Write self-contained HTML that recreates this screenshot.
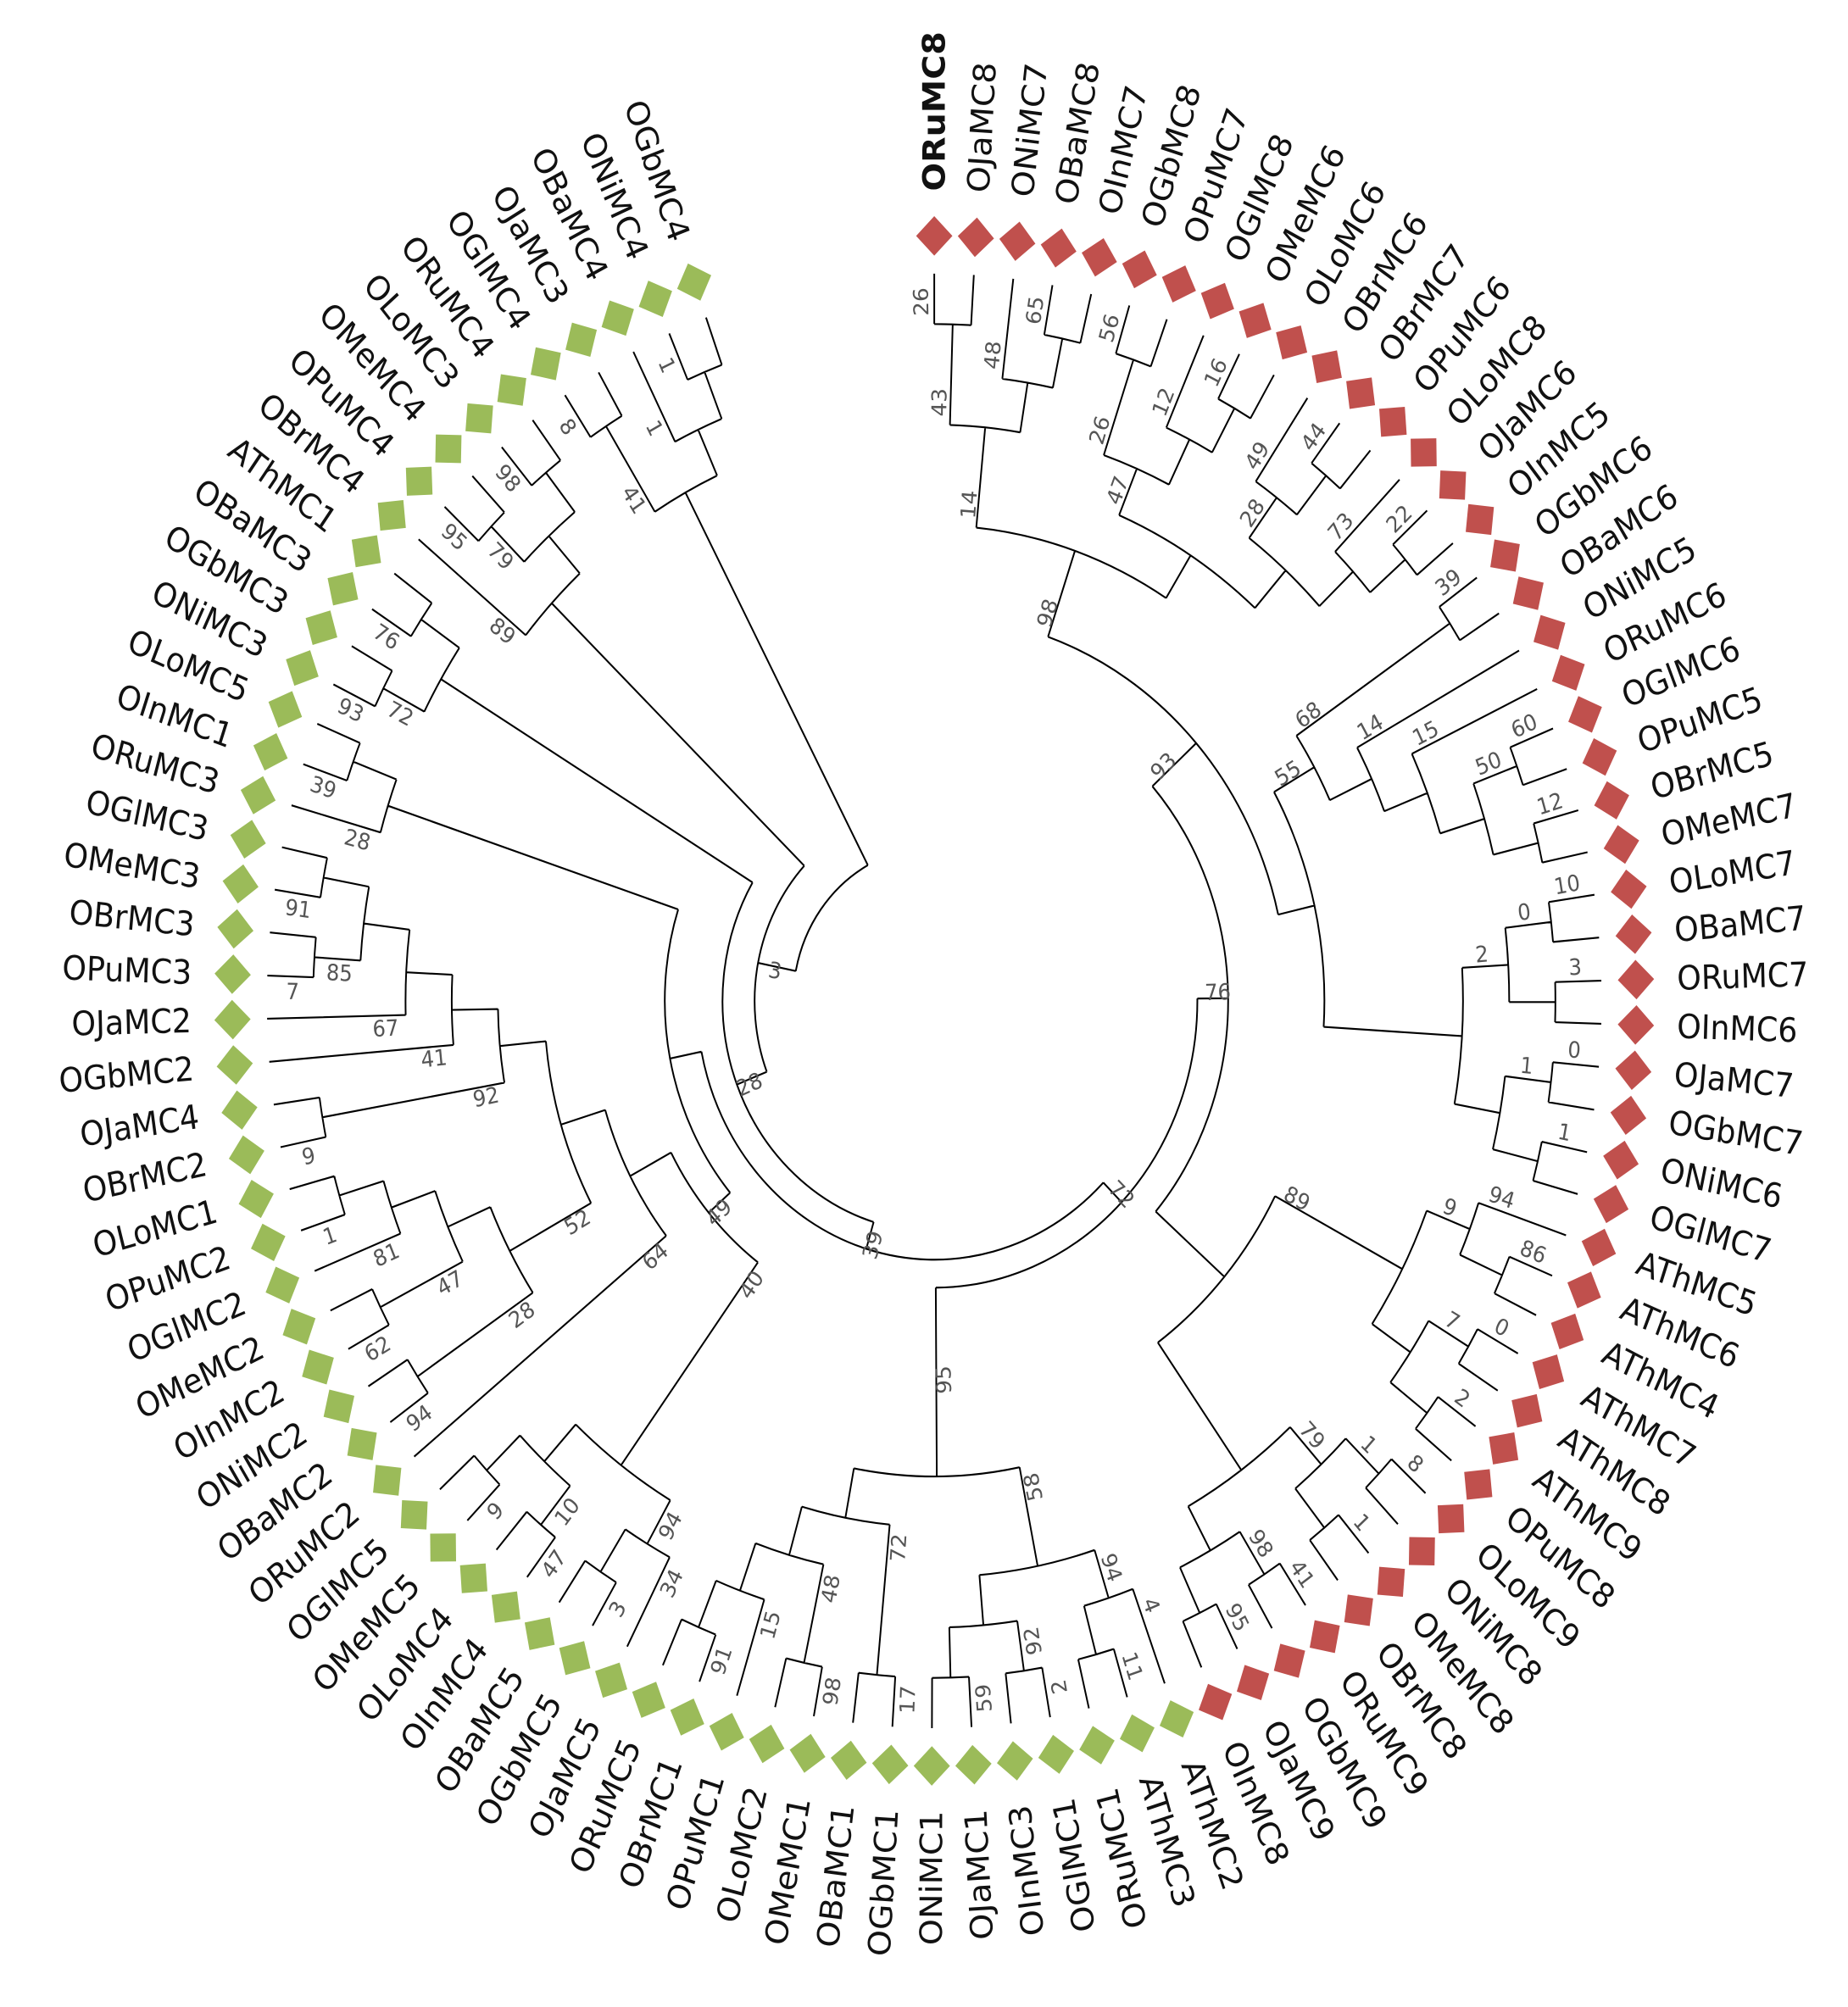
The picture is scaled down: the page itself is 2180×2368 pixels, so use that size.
<!DOCTYPE html>
<html><head><meta charset="utf-8"><style>
html,body{margin:0;padding:0;background:#fff;}
svg{display:block;}
text{font-family:"DejaVu Sans","Liberation Sans",sans-serif;}
</style></head><body>
<svg id="s" xmlns="http://www.w3.org/2000/svg" width="2180" height="2368" viewBox="0 0 1440 1564">
<rect width="1440" height="1564" fill="#fff"/>
<g id="g" transform="translate(728,780) scale(1,1.09)"></g>
</svg>
<script>
const names=["ORuMC8","OJaMC8","ONiMC7","OBaMC8","OInMC7","OGbMC8","OPuMC7","OGlMC8","OMeMC6","OLoMC6","OBrMC6","OBrMC7","OPuMC6","OLoMC8","OJaMC6","OInMC5","OGbMC6","OBaMC6","ONiMC5","ORuMC6","OGlMC6","OPuMC5","OBrMC5","OMeMC7","OLoMC7","OBaMC7","ORuMC7","OInMC6","OJaMC7","OGbMC7","ONiMC6","OGlMC7","AThMC5","AThMC6","AThMC4","AThMC7","AThMC8","AThMC9","OPuMC8","OLoMC9","ONiMC8","OMeMC8","OBrMC8","ORuMC9","OGbMC9","OJaMC9","OInMC8",
"AThMC2","AThMC3","ORuMC1","OGlMC1","OInMC3","OJaMC1","ONiMC1","OGbMC1","OBaMC1","OMeMC1","OLoMC2","OPuMC1","OBrMC1","ORuMC5","OJaMC5","OGbMC5","OBaMC5","OInMC4","OLoMC4","OMeMC5","OGlMC5","ORuMC2","OBaMC2","ONiMC2","OInMC2","OMeMC2","OGlMC2","OPuMC2","OLoMC1","OBrMC2","OJaMC4","OGbMC2","OJaMC2","OPuMC3","OBrMC3","OMeMC3","OGlMC3","ORuMC3","OInMC1","OLoMC5","ONiMC3","OGbMC3","OBaMC3","AThMC1","OBrMC4","OPuMC4","OMeMC4","OLoMC3","ORuMC4","OGlMC4","OJaMC3","OBaMC4","ONiMC4","OGbMC4"];
const STEP=3.4,TIP=520;
function P(r,t){const a=t*Math.PI/180;return [r*Math.sin(a),-r*Math.cos(a)];}
function leaf(i){return {leaf:true,i:i,ang:i*STEP,r:TIP,h:0};}
function mk(ch,r){const a=ch.map(c=>c.ang);const lo=Math.min(...a),hi=Math.max(...a);const h=1+Math.max(...ch.map(c=>c.h));return {ch:ch,ang:(lo+hi)/2,lo:lo,hi:hi,h:h,r:(r!=null?r:TIP-36*h)};}
function clade(a,b){if(a===b)return leaf(a);const n=b-a+1;let s=a+Math.floor(n/2)-1;if(n>4&&((a+b)%3===0))s=a+Math.floor(n/3)-1;if(n>5&&((a+b)%5===1))s=a;if(s<a)s=a;if(s>=b)s=b-1;return mk([clade(a,s),clade(s+1,b)]);}
const root=mk([clade(96,100),mk([clade(91,95),mk([clade(87,90),mk([mk([clade(84,86),clade(61,83)],210),mk([mk([clade(47,60)],255),mk([mk([clade(0,15),clade(16,31)],275),mk([clade(32,38),clade(39,46)],300)],229)],205)],185)],165)],140)],110);
let d="";const nums=[8,1,1,41,95,98,79,89,93,76,72,39,28,3,34,47,9,10,94,94,62,1,81,47,28,9,7,91,85,67,41,92,52,64,40,49,11,4,2,59,92,94,17,98,91,15,48,72,58,95,26,65,48,43,56,16,12,26,44,49,22,73,28,47,14,39,60,12,50,15,14,68,10,3,0,0,1,1,2,55,98,86,94,0,2,7,9];
let ni=0;let txt="";
function f(v){return v.toFixed(2);}
function draw(n){if(n.leaf)return;const s=P(n.r,n.lo),e=P(n.r,n.hi);const lg=(n.hi-n.lo)>180?1:0;
d+="M"+f(s[0])+" "+f(s[1])+"A"+n.r+" "+n.r+" 0 "+lg+" 1 "+f(e[0])+" "+f(e[1]);
for(const c of n.ch){const a=P(n.r,c.ang),b=P(c.r,c.ang);d+="M"+f(a[0])+" "+f(a[1])+"L"+f(b[0])+" "+f(b[1]);draw(c);}
if(n.r<490){const t=n.lo-1.2;const p=P(n.r+16,t);const rot=(t%360)<=165?t-90:t+90;
txt+='<text x="'+f(p[0])+'" y="'+f(p[1])+'" font-size="16" fill="#555" text-anchor="middle" dominant-baseline="central" transform="rotate('+f(rot)+' '+f(p[0])+' '+f(p[1])+')">'+nums[ni%nums.length]+'</text>';ni++;}}
draw(root);
let out='<path d="'+d+'" fill="none" stroke="#000" stroke-width="1.3"/>'+txt;
for(let i=0;i<names.length;i++){const t=i*STEP;const col=i<47?"#c0504d":"#9bbb59";const p=P(547,t);
out+='<rect x="-10" y="-10" width="20" height="20" fill="'+col+'" transform="translate('+f(p[0])+' '+f(p[1])+') rotate('+f(t+45)+')"/>';
const bold=i===0?' font-weight="bold"':'';
if(t<=165){out+='<text x="579" y="0" font-size="24" fill="#111" dominant-baseline="central"'+bold+' transform="rotate('+f(t-90)+')">'+names[i]+'</text>';}
else{out+='<text x="-579" y="0" font-size="24" fill="#111" text-anchor="end" dominant-baseline="central" transform="rotate('+f(t+90)+')">'+names[i]+'</text>';}}
document.getElementById("g").innerHTML=out;
</script>
</body></html>
